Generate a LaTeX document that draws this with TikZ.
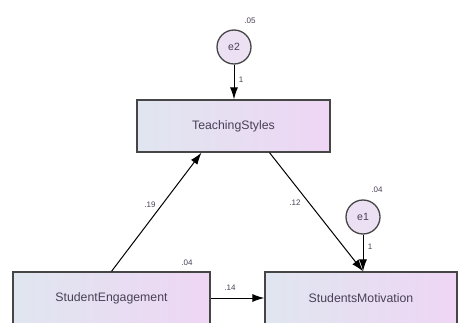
\documentclass[tikz,border=0pt]{standalone}
\usepackage{fontspec}
\setmainfont{Liberation Sans}
\usetikzlibrary{arrows.meta}
\definecolor{boxleft}{RGB}{224,230,240}
\definecolor{boxright}{RGB}{238,214,244}
\definecolor{errfill}{RGB}{236,224,243}
\definecolor{inktext}{RGB}{72,64,86}
\definecolor{edge}{RGB}{70,70,70}
\begin{document}
\begin{tikzpicture}[x=1pt,y=1pt]
\tikzstyle{every node}+=[inner sep=0pt]
\tikzstyle{obs}=[draw=edge,line width=1.3pt,left color=boxleft,right color=boxright,minimum height=52pt,text=inktext,font=\fontsize{12.3}{14}\selectfont]
\tikzstyle{err}=[circle,draw=edge,line width=1.3pt,fill=errfill,minimum size=34pt,text=inktext,font=\fontsize{10.5}{12}\selectfont]
\tikzstyle{est}=[text=inktext,font=\fontsize{8}{9}\selectfont]
\tikzstyle{reg}=[black,line width=1pt,-{Latex[length=12pt,width=8pt]}]
\useasboundingbox (0,0) rectangle (463,-323);
\node[obs,minimum width=193pt] (ts) at (233.5,-126) {TeachingStyles};
\node[obs,minimum width=197pt] (se) at (111.5,-298) {StudentEngagement};
\node[obs,minimum width=192pt] (sm) at (361,-298) {StudentsMotivation};
\node[err] (e2) at (234,-47) {e2};
\node[err] (e1) at (363,-217) {e1};
\draw[reg] (e2) -- (e2 |- ts.north);
\draw[reg] (e1) -- (e1 |- sm.north);
\draw[reg] (se.north) -- ([xshift=-32pt]ts.south);
\draw[reg] ([xshift=36pt]ts.south) -- ([xshift=2pt]sm.north);
\draw[reg] (se.east) -- (sm.west);
\node[est] (v2) at (250,-21) {.05};
\node[est] (w2) at (241,-80) {1};
\node[est] (v1) at (377,-190) {.04};
\node[est] (w1) at (370,-247) {1};
\node[est] (b19) at (150,-205) {.19};
\node[est] (b12) at (295,-203) {.12};
\node[est] (b14) at (230,-288) {.14};
\node[est] (r2) at (187,-263) {.04};
\end{tikzpicture}
\end{document}
